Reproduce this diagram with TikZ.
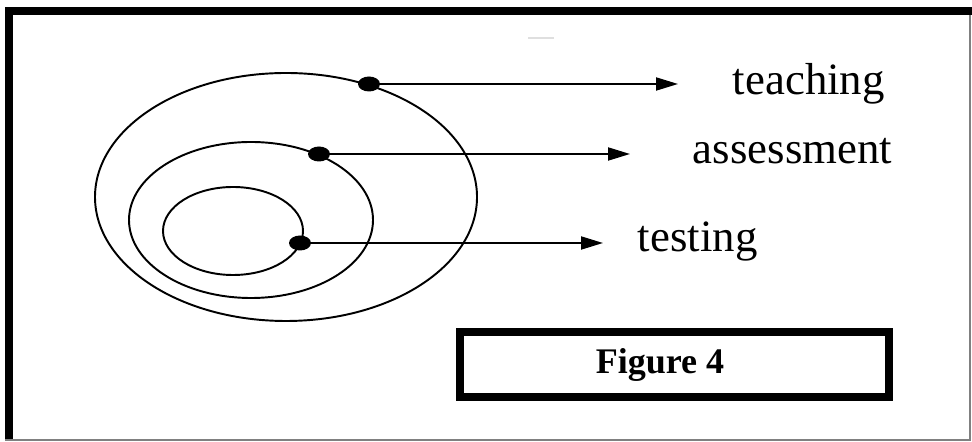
\documentclass[tikz,border=0pt]{standalone}
\usepackage{fontspec}
\setmainfont{Liberation Serif}
\usepackage{tikz}
\usetikzlibrary{arrows.meta,positioning,shapes.geometric}

\begin{document}
\begin{tikzpicture}[>={Triangle[length=4.4mm, width=2.6mm]}, line width=1.1pt,
  dot/.style={draw=none, fill=black, ellipse, minimum width=0.44cm, minimum height=0.30cm, inner sep=0pt},
  lbl/.style={anchor=base west, inner sep=0pt, font=\fontsize{25.5}{30}\selectfont}]
  \useasboundingbox (0,0) rectangle (19.44,8.84);
  \draw[line width=0.17cm] (0.18,0.04) -- (0.18,8.62) -- (19.44,8.62);
  \draw[gray, line width=0.6pt] (0.10,0.04) -- (19.40,0.04) -- (19.40,8.54);
  \draw[gray!25, line width=1.5pt] (10.56,8.08) -- (11.08,8.08);

  \draw (5.72,4.90) ellipse [x radius=3.82, y radius=2.48];
  \draw (5.02,4.44) ellipse [x radius=2.44, y radius=1.56];
  \draw (4.66,4.22) ellipse [x radius=1.40, y radius=0.88];

  \node[dot] (teach) at (7.38,7.16) {};
  \node[dot] (assess) at (6.38,5.76) {};
  \node[dot] (test) at (6.00,3.98) {};

  \coordinate (teachtip) at (13.56,7.16);
  \coordinate (assesstip) at (12.60,5.76);
  \coordinate (testtip) at (12.06,3.98);

  \draw[->] (teach.center) -- (teachtip);
  \draw[->] (assess.center) -- (assesstip);
  \draw[->] (test.center) -- (testtip);

  \node[lbl] (teachlbl) at (14.64,6.94) {teaching};
  \node[lbl] (assesslbl) at (13.84,5.56) {assessment};
  \node[lbl] (testlbl) at (12.74,3.80) {testing};

  \node[draw, line width=0.16cm, minimum width=8.58cm, minimum height=1.30cm,
        font=\fontsize{20.5}{24}\selectfont\bfseries] (fig) at (13.49,1.55) {Figure 4\hspace*{0.58cm}};
\end{tikzpicture}
\end{document}
